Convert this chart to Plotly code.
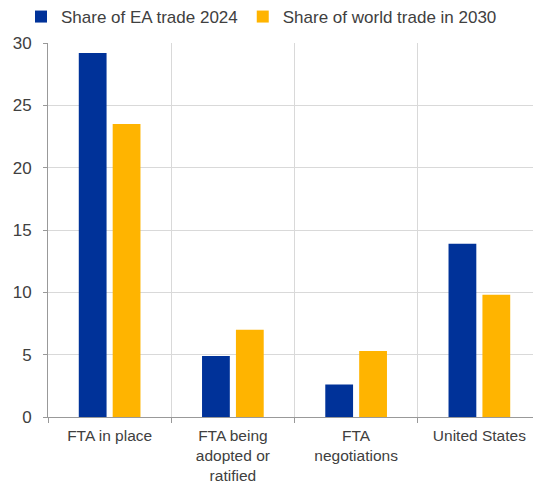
import plotly.graph_objects as go

categories = ["FTA in place", "FTA being<br>adopted or<br>ratified", "FTA<br>negotiations", "United States"]
series_names = ["Share of EA trade 2024", "Share of world trade in 2030"]
ea_trade_2024 = [29.2, 4.9, 2.6, 13.9]
world_trade_2030 = [23.5, 7.0, 5.3, 9.8]
colors = ["#003299", "#FFB400"]
y_ticks = [0, 5, 10, 15, 20, 25, 30]

FONT = "Liberation Sans, Arial, sans-serif"
TEXT = "#404040"

# The page body has an 8px margin, so the figure is sized/offset to compensate.
W, H = 533, 477

fig = go.Figure()
for name, vals, col in zip(series_names, [ea_trade_2024, world_trade_2030], colors):
    fig.add_trace(go.Bar(x=categories, y=vals, name=name, marker=dict(color=col, line=dict(width=0))))

fig.update_layout(
    width=W, height=H,
    margin=dict(l=40, r=0, t=35, b=68, autoexpand=False),
    plot_bgcolor="white", paper_bgcolor="white",
    barmode="group", bargap=0.45, bargroupgap=0.18,
    font=dict(family=FONT, size=16, color=TEXT),
    showlegend=True,
    legend=dict(orientation="h", xref="container", yref="container",
                x=13 / W, xanchor="left", y=1 - 9 / H, yanchor="middle",
                font=dict(size=17, color=TEXT), itemwidth=30, traceorder="normal",
                bgcolor="rgba(0,0,0,0)"),
)
fig.update_xaxes(
    automargin=False,
    tickson="boundaries", showgrid=True, gridcolor="#d9d9d9", gridwidth=1,
    showline=True, linecolor="#999999", linewidth=1,
    ticks="outside", ticklen=5, tickcolor="#999999",
    tickfont=dict(size=15.5, color=TEXT), ticklabelstandoff=4,
)
fig.update_yaxes(
    automargin=False,
    range=[0, 30], tickvals=y_ticks, showgrid=True, gridcolor="#d9d9d9", gridwidth=1,
    showline=True, linecolor="#999999", linewidth=1,
    ticks="outside", ticklen=4, tickcolor="#999999",
    tickfont=dict(size=17, color=TEXT), ticklabelstandoff=8, zeroline=False,
)

fig.write_html("out.html")
